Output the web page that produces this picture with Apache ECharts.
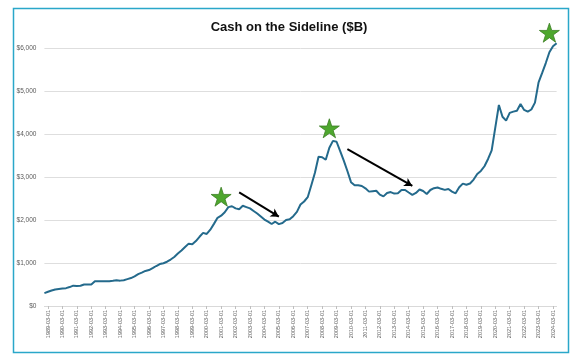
<!DOCTYPE html>
<html>
<head>
<meta charset="utf-8">
<script src="https://cdn.jsdelivr.net/npm/echarts@6/dist/echarts.min.js"></script>
<style>
html,body{margin:0;padding:0;background:#fff;}
#chart{width:578px;height:360px;}
</style>
</head>
<body>
<div id="chart"></div>
<script>
// Quarterly observations, first one 1988-12-01
const startYear = 1988;
const startMonth = 12;
const values = [300,330,360,385,395,405,415,440,473,466,
470,500,500,500,574,574,574,574,576,585,
597,590,600,625,650,690,740,775,815,835,
880,930,975,995,1030,1080,1140,1220,1290,1370,
1450,1435,1510,1610,1700,1675,1775,1910,2050,2100,
2180,2300,2320,2270,2250,2330,2300,2270,2210,2150,
2080,2010,1960,1907,1960,1905,1930,2000,2016,2090,
2190,2360,2430,2530,2810,3100,3470,3460,3400,3680,
3840,3820,3600,3380,3140,2880,2810,2810,2790,2736,
2660,2670,2680,2590,2550,2630,2650,2615,2620,2698,
2698,2640,2585,2630,2710,2674,2605,2698,2740,2755,
2725,2700,2721,2660,2620,2760,2845,2820,2850,2940,
3070,3140,3250,3420,3620,4150,4674,4400,4310,4490,
4520,4540,4698,4560,4520,4570,4730,5200,5420,5650,
5900,6040,6110];
// star annotations: [category index, value]
const stars = [[49.1, 2542], [79.2, 4133], [140.1, 6356]];
// arrow annotations: [[startIdx, startVal], [endIdx, endVal]]
const arrows = [
  [[53.5, 2644], [65.3, 2077]],
  [[83.5, 3651], [101.7, 2791]]
];
const yTicks = [0, 1000, 2000, 3000, 4000, 5000, 6000];

const categories = [];
{
  let y = startYear, m = startMonth;
  for (let i = 0; i < values.length; i++) {
    categories.push(y + '-' + String(m).padStart(2, '0') + '-01');
    m += 3; if (m > 12) { m -= 12; y += 1; }
  }
}
const showLabel = (idx, v) => String(categories[idx] || v).slice(5) === '03-01';

const chart = echarts.init(document.getElementById('chart'), null, {renderer: 'canvas'});
const starPath = 'path://M50,0 L61.2,34.5 L97.6,34.5 L68.2,55.9 L79.4,90.5 L50,69.1 L20.6,90.5 L31.8,55.9 L2.4,34.5 L38.8,34.5 Z';
chart.setOption({
  backgroundColor: '#ffffff',
  animation: false,
  title: {
    text: 'Cash on the Sideline ($B)',
    left: 'center',
    top: 16,
    textStyle: {fontFamily: 'Liberation Sans, Arial, sans-serif', fontSize: 13, fontWeight: 'bold', color: '#111'}
  },
  graphic: [{
    type: 'rect', left: 11, top: 6, z: 100,
    shape: {x: 0, y: 0, width: 555, height: 344},
    style: {fill: 'none', stroke: '#2aa7c9', lineWidth: 1.5}
  }],
  grid: {left: 44.4, right: 21.4, top: 48, bottom: 54},
  xAxis: {
    type: 'category',
    data: categories,
    boundaryGap: false,
    axisLine: {lineStyle: {color: '#d9d9d9', width: 1}},
    axisTick: {show: true, length: 3, interval: (idx) => showLabel(idx), lineStyle: {color: '#bfbfbf'}},
    axisLabel: {
      interval: (idx) => showLabel(idx),
      rotate: 90, margin: 4,
      fontFamily: 'Liberation Sans, Arial, sans-serif', fontSize: 5.5, color: '#595959'
    },
    splitLine: {show: false}
  },
  yAxis: {
    type: 'value',
    min: yTicks[0], max: yTicks[yTicks.length - 1], interval: 1000,
    axisLine: {show: false}, axisTick: {show: false},
    axisLabel: {
      margin: 8,
      fontFamily: 'Liberation Sans, Arial, sans-serif', fontSize: 6.5, color: '#595959',
      formatter: (v) => '$' + v.toLocaleString('en-US')
    },
    splitLine: {lineStyle: {color: '#dedede', width: 1}}
  },
  series: [{
    type: 'line',
    data: values,
    clip: false,
    showSymbol: false,
    symbol: 'none',
    lineStyle: {color: '#246a8c', width: 2},
    z: 3,
    markLine: {
      silent: true,
      symbol: ['none', 'arrow'],
      symbolSize: [7, 8],
      label: {show: false},
      lineStyle: {color: '#000', width: 2, type: 'solid'},
      data: arrows.map(a => [{coord: a[0]}, {coord: a[1]}])
    }
  }, {
    type: 'scatter',
    data: stars,
    clip: false,
    symbol: starPath,
    symbolSize: [20, 19],
    itemStyle: {color: '#4ea72e', borderColor: '#3b7d23', borderWidth: 0.8, opacity: 1},
    z: 5
  }]
});
</script>
</body>
</html>
